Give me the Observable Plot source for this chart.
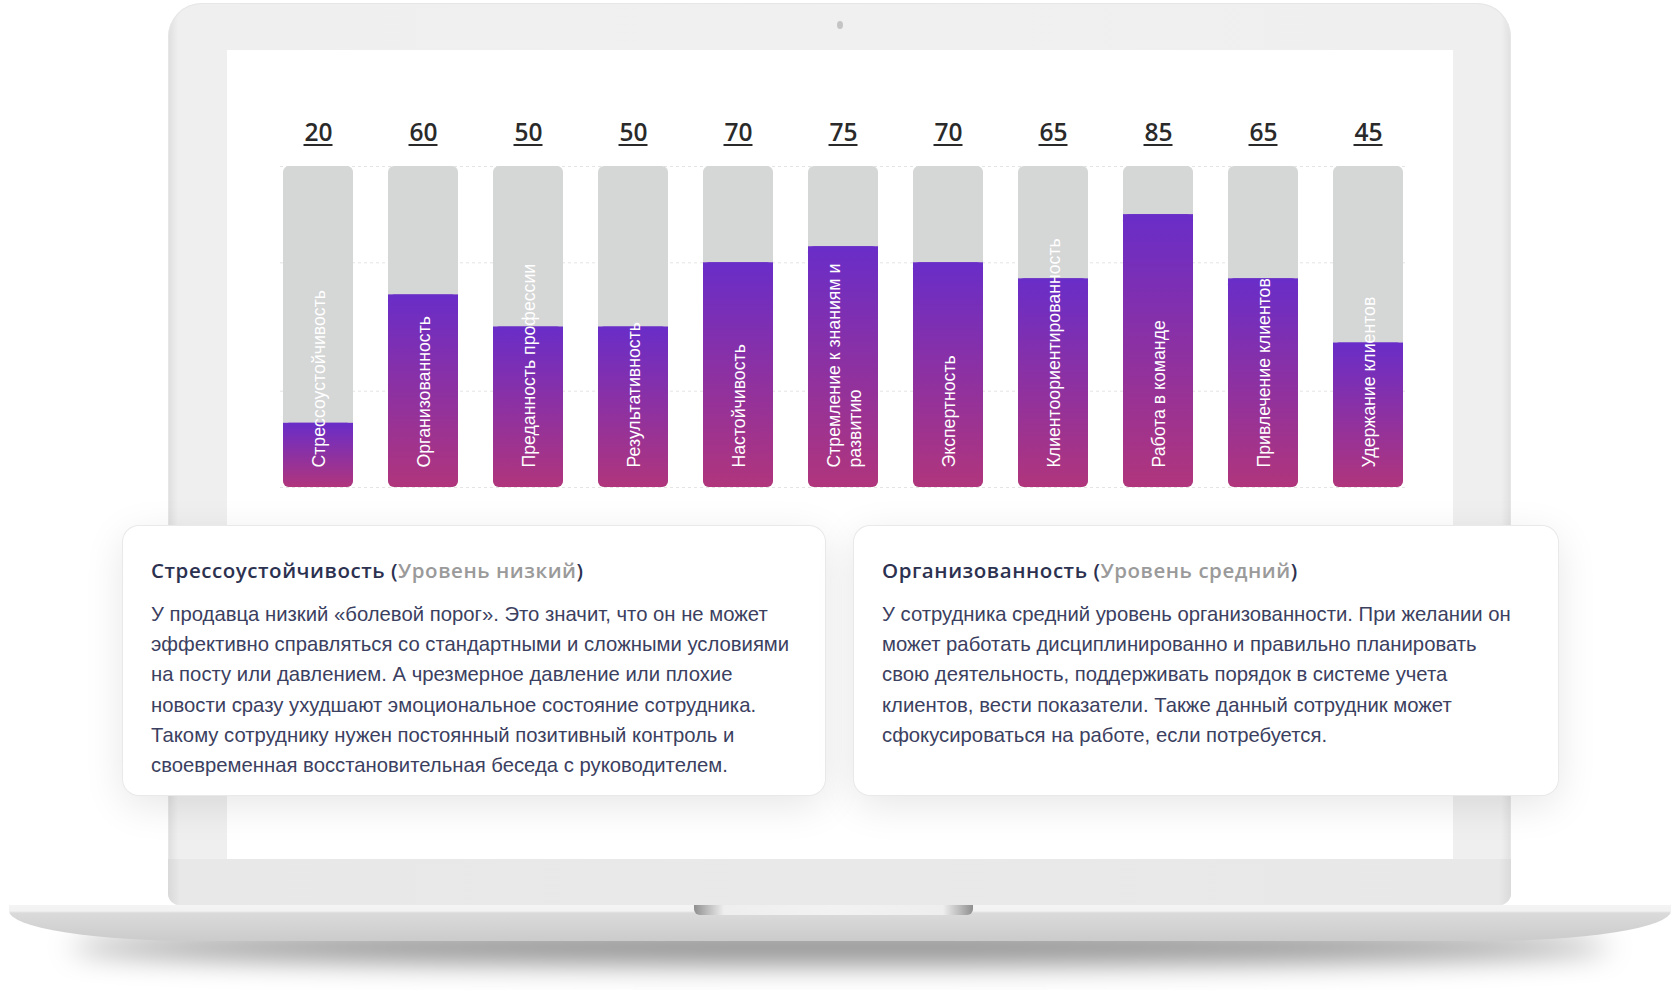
<!DOCTYPE html>
<html lang="ru">
<head>
<meta charset="utf-8">
<script src="https://cdn.jsdelivr.net/npm/d3@7"></script>
<script src="https://cdn.jsdelivr.net/npm/@observablehq/plot@0.6"></script>
<style>
  html, body { margin: 0; padding: 0; background: #ffffff; }
  #stage { position: relative; width: 1680px; height: 990px; overflow: hidden; background: #fff; }
  .abs { position: absolute; }
  #shadow { left: 70px; top: 930px; width: 1540px; height: 34px; border-radius: 50%;
    background: rgba(0,0,0,0.45); filter: blur(14px); }
  #body { left: 168px; top: 3px; width: 1343px; height: 902px; border-radius: 34px 34px 12px 12px;
    background: linear-gradient(to right, #dedede 0px, #efefef 10px, #f0f0f0 50%, #efefef calc(100% - 10px), #e0e0e0 100%);
    box-shadow: inset 0 0 0 1px #e6e6e6; }
  #bodyLow { left: 168px; top: 859px; width: 1343px; height: 46px; border-radius: 0 0 12px 12px;
    background: linear-gradient(to right, #d9d9d9 0px, #e8e8e8 12px, #e9e9e9 50%, #e8e8e8 calc(100% - 12px), #dadada 100%); }
  #screen { left: 227px; top: 50px; width: 1226px; height: 809px; background: #ffffff; }
  #camera { left: 837px; top: 21px; width: 6px; height: 8px; border-radius: 50%; background: #c4c4c4; }
  #base { left: 9px; top: 905px; width: 1662px; height: 36px;
    border-radius: 0 0 190px 190px / 0 0 30px 30px;
    background: linear-gradient(to bottom, #f4f4f4 0px, #f2f2f2 6px, #dadada 8px, #d3d3d3 60%, #cbcbcb 100%); }
  #notch { left: 694px; top: 905px; width: 279px; height: 10px; border-radius: 0 0 6px 6px;
    background: linear-gradient(to right, #8f8f8f 0px, #bdbdbd 14px, #eeeeee 30px, #f2f2f2 50%, #eeeeee calc(100% - 30px), #bdbdbd calc(100% - 14px), #8f8f8f 100%); }
  #chart { left: 227px; top: 50px; }
  .card { position: absolute; top: 526px; height: 269px; background: #ffffff; border-radius: 16px;
    box-shadow: 0 0 0 1px #e9e9e9, 0 10px 40px rgba(0,0,0,0.10); box-sizing: border-box;
    padding: 29px 0 0 28px; }
  .card h3 { margin: 0 0 14px 0; font-family: "Open Sans", sans-serif; font-weight: 600; font-size: 20.5px;
    letter-spacing: 0.55px; line-height: 30px; color: #2c3150; white-space: nowrap; }
  .card h3 .lvl { color: #9a9a9a; font-weight: 600; }
  .card p { margin: 0; font-family: "Liberation Sans", Arial, sans-serif; font-size: 20.3px; line-height: 30.2px;
    color: #3b4060; white-space: nowrap; }
</style>
</head>
<body>
<div id="stage">
  <div id="shadow" class="abs"></div>
  <div id="body" class="abs"></div>
  <div id="bodyLow" class="abs"></div>
  <div id="screen" class="abs"></div>
  <div id="camera" class="abs"></div>
  <div id="base" class="abs"></div>
  <div id="notch" class="abs"></div>
  <div id="chart" class="abs"></div>
  <div class="card" style="left:123px; width:702px;">
    <h3>Стрессоустойчивость (<span class="lvl">Уровень низкий</span>)</h3>
    <p id="text1"></p>
  </div>
  <div class="card" style="left:854px; width:704px;">
    <h3>Организованность (<span class="lvl">Уровень средний</span>)</h3>
    <p id="text2"></p>
  </div>
</div>
<script>
// ---- data ----
const categories = [
  "Стрессоустойчивость",
  "Организованность",
  "Преданность профессии",
  "Результативность",
  "Настойчивость",
  "Стремление к знаниям и\nразвитию",
  "Экспертность",
  "Клиентоориентированность",
  "Работа в команде",
  "Привлечение клиентов",
  "Удержание клиентов"
];
const values = [20, 60, 50, 50, 70, 75, 70, 65, 85, 65, 45];
const maxValue = 100;
const gridLevels = [0, 30, 70, 100];

const card1Lines = [
  "У продавца низкий «болевой порог». Это значит, что он не может",
  "эффективно справляться со стандартными и сложными условиями",
  "на посту или давлением. А чрезмерное давление или плохие",
  "новости сразу ухудшают эмоциональное состояние сотрудника.",
  "Такому сотруднику нужен постоянный позитивный контроль и",
  "своевременная восстановительная беседа с руководителем."
];
const card2Lines = [
  "У сотрудника средний уровень организованности. При желании он",
  "может работать дисциплинированно и правильно планировать",
  "свою деятельность, поддерживать порядок в системе учета",
  "клиентов, вести показатели. Также данный сотрудник может",
  "сфокусироваться на работе, если потребуется."
];

document.getElementById("text1").innerHTML = card1Lines.join("<br>");
document.getElementById("text2").innerHTML = card2Lines.join("<br>");

const data = categories.map((c, i) => ({category: c, value: values[i]}));

const chart = Plot.plot({
  width: 1226,
  height: 460,
  marginTop: 116,
  marginBottom: 23,
  marginLeft: 53,
  marginRight: 47,
  style: {background: "transparent", overflow: "visible"},
  x: {domain: categories, paddingInner: 0.335, paddingOuter: 0, axis: null},
  y: {domain: [0, maxValue], axis: null},
  marks: [
    Plot.ruleY(gridLevels, {stroke: "#e4e4e4", strokeDasharray: "3,3", strokeWidth: 1}),
    Plot.barY(data, {x: "category", y: () => maxValue, fill: "#d5d6d6", rx: 6}),
    Plot.barY(data, {x: "category", y: "value", fill: "url(#gradFull)", rx: 6}),
    Plot.barY(data, {x: "category", y1: d => d.value / 2, y2: "value", fill: "url(#gradTop)"}),
    Plot.text(data, {
      x: "category", y: () => 0, text: "category", rotate: -90, textAnchor: "start",
      dy: -20, fill: "#ffffff", fontSize: 17.7, lineHeight: 1.23,
      fontFamily: "Liberation Sans, Arial, sans-serif"
    }),
    Plot.text(data, {
      x: "category", y: () => maxValue, text: d => String(d.value), dy: -33,
      fontSize: 24.5, fontWeight: 600, fill: "#2a2a2a", fontFamily: "Open Sans, sans-serif"
    }),
    Plot.tickY(data, {
      x: "category", y: () => maxValue, dy: -21.5, insetLeft: 20.5, insetRight: 20.5,
      stroke: "#2a2a2a", strokeWidth: 2
    })
  ]
});

// gradient definitions used by the bar fills
const ns = "http://www.w3.org/2000/svg";
const defs = document.createElementNS(ns, "defs");
function grad(id, c0, c1) {
  const g = document.createElementNS(ns, "linearGradient");
  g.setAttribute("id", id);
  g.setAttribute("x1", "0"); g.setAttribute("y1", "0");
  g.setAttribute("x2", "0"); g.setAttribute("y2", "1");
  [[0, c0], [1, c1]].forEach(([o, c]) => {
    const s = document.createElementNS(ns, "stop");
    s.setAttribute("offset", o);
    s.setAttribute("stop-color", c);
    g.appendChild(s);
  });
  defs.appendChild(g);
}
grad("gradFull", "#692dc8", "#b0357c");
grad("gradTop", "#692dc8", "#8d31a2");
chart.insertBefore(defs, chart.firstChild);

document.getElementById("chart").appendChild(chart);
</script>
</body>
</html>
